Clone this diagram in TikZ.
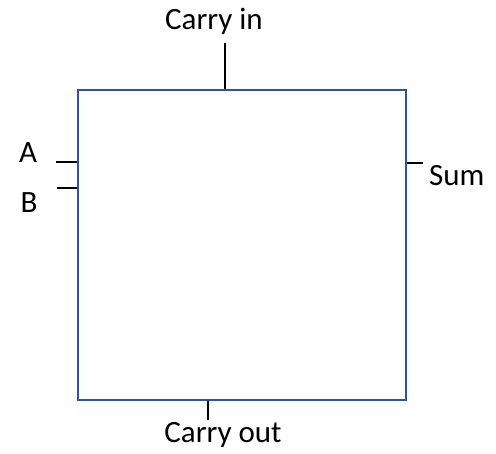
\documentclass[tikz,border=0pt]{standalone}
\usepackage{fontspec}
\setmainfont{Carlito}
\usepackage{tikz}
\usetikzlibrary{positioning}
\definecolor{boxblue}{HTML}{2F5597}

\begin{document}
\begin{tikzpicture}[
  x=1pt, y=-1pt,
  adder/.style={
    draw=boxblue, line width=2.2pt, minimum width=328pt, minimum height=310pt,
    inner sep=0pt
  },
  lbl/.style={anchor=base, inner sep=0pt, font=\fontsize{31}{36}\selectfont},
  wire/.style={line width=2.2pt, color=black}
]
\useasboundingbox (0,0) rectangle (496,454);
\node[adder] (fa) at (242,245) {};
% pins
\coordinate (cin) at (225,43);
\coordinate (cout) at (208,420);
\coordinate (ina) at (56,162);
\coordinate (inb) at (57,188);
\coordinate (sum) at (423,163);
\draw[wire] (cin |- fa.north) -- (cin);
\draw[wire] (cout |- fa.south) -- (cout);
\draw[wire] (ina -| fa.west) -- (ina);
\draw[wire] (inb -| fa.west) -- (inb);
\draw[wire] (sum -| fa.east) -- (sum);
% labels
\node[lbl] (lcin) at (214,30) {Carry in};
\node[lbl] (lcout) at (223,443) {Carry out};
\node[lbl] (la) at (28,163) {A};
\node[lbl] (lb) at (29,213) {B};
\node[lbl, anchor=base west] (lsum) at (429,186) {Sum};
\end{tikzpicture}
\end{document}
